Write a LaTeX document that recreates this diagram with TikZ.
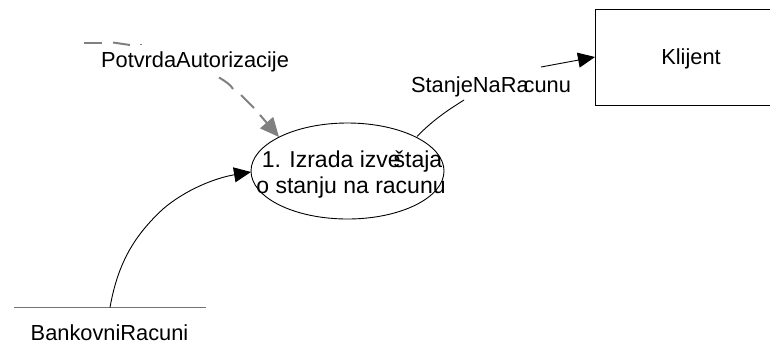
\documentclass[tikz,border=0pt]{standalone}
\usepackage{fontspec}
\setmainfont{Liberation Sans}
\usetikzlibrary{arrows.meta,shapes.geometric}
\tikzset{
  lbl/.style={inner sep=0pt,font=\fontsize{21.8}{31}\selectfont,text=black},
  proclbl/.style={inner sep=0pt,font=\fontsize{23}{31}\selectfont,text=black},
  flow/.style={draw=black,line width=0.9pt,-{Triangle[length=17pt,width=15pt]}},
  plain/.style={draw=black,line width=0.9pt},
  greydash/.style={draw=gray,line width=2pt}
}
\begin{document}
\begin{tikzpicture}[x=1pt,y=-1pt]
\useasboundingbox (0,0) rectangle (770,354);
\node[minimum width=175pt,minimum height=96pt,inner sep=0pt,anchor=north west] (klijent) at (595,9) {};
\draw[draw=black,line width=1pt] (770,9) -- (595,9) -- (595,105) -- (770,105);
\node[lbl] (klijentl) at (691,59) {Klijent};
\node[draw=black,line width=0.9pt,ellipse,minimum width=193pt,minimum height=96pt,inner sep=0pt] (proc) at (347.5,171) {};
\node[proclbl] (procl) at (352,162) {1. Izrada izve\kern-7ptštaja};
\node[proclbl] (procm) at (351,188) {o stanju na racunu};
\node[lbl] (potvrda) at (195,62) {PotvrdaAutorizacije};
\node[lbl] (stanje) at (491,87) {StanjeNaRa\kern-5ptcunu};
\node[lbl] (banka) at (109.5,333) {BankovniRacuni};
\coordinate (storeL) at (14,307.5);
\coordinate (storeR) at (206,307.5);
\coordinate (storeT) at (110,307.5);
\draw[draw=gray!90!black,line width=1.5pt] (storeL) -- (storeR);
\coordinate (gEnd) at (279,137);
\draw[greydash] (84,42.5) -- (102,42.5);
\draw[greydash] (113,42.5) -- (130,45);
\draw[draw=gray,line width=0.6pt] (140,44.5) -- (142,44.5);
\draw[greydash] (219,77.5) .. controls (225,81) and (231,85) .. (233,89);
\draw[greydash] (241,95) -- (254,108);
\draw[greydash,-{Triangle[length=19pt,width=17pt]}] (260,115) -- (gEnd);
\draw[flow] (storeT) .. controls (118,262) and (135,235) .. (163,209) .. controls (185,190) and (215,178) .. (251,172);
\draw[plain] (417,136.5) .. controls (435,118) and (450,109) .. (464,100);
\draw[flow] (541,67) -- (595,57);
\end{tikzpicture}
\end{document}
